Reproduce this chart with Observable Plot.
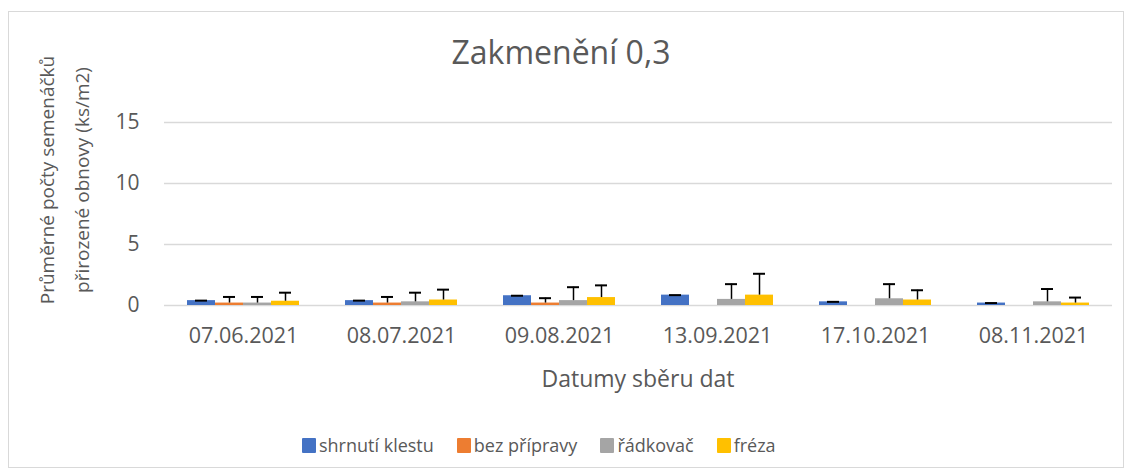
<!DOCTYPE html>
<html>
<head>
<meta charset="utf-8">
<script src="https://cdn.jsdelivr.net/npm/d3@7"></script>
<script src="https://cdn.jsdelivr.net/npm/@observablehq/plot@0.6"></script>
<style>
  body { margin: 0; background: #fff; font-family: "Open Sans", sans-serif; }
  #wrap { position: relative; width: 1132px; height: 476px; overflow: hidden; }
  #frame { position: absolute; left: 8px; top: 11px; width: 1114px; height: 455px; border: 1px solid #d9d9d9; }
  #title { position: absolute; left: 0; top: 28px; width: 1122px; text-align: center; font-size: 32px; color: #595959; line-height: 48px; }
  #chart { position: absolute; left: 0; top: 80px; }
  #ytitle { position: absolute; left: -85.5px; top: 145px; width: 300px; height: 70px; line-height: 35px;
            font-size: 19px; color: #595959; text-align: center; transform: rotate(-90deg); transform-origin: 50% 50%; white-space: nowrap; }
  #xtitle { position: absolute; left: 438px; width: 400px; top: 363px; text-align: center; font-size: 23px; color: #595959; line-height: 30px; }
  #legend { position: absolute; left: 302px; top: 432px; display: flex; align-items: center; font-size: 18px; color: #595959; line-height: 26px; }
  #legend .item { display: flex; align-items: center; margin-right: 23px; }
  #legend .sw { width: 14px; height: 15px; margin-right: 3px; border-radius: 1px; }
</style>
</head>
<body>
<div id="wrap">
  <div id="frame"></div>
  <div id="title">Zakmenění 0,3</div>
  <div id="chart"></div>
  <div id="ytitle">Průměrné počty semenáčků<br>přirozené obnovy (ks/m2)</div>
  <div id="xtitle">Datumy sběru dat</div>
  <div id="legend"></div>
</div>
<script>
const dates = ["07.06.2021", "08.07.2021", "09.08.2021", "13.09.2021", "17.10.2021", "08.11.2021"];
const series = ["shrnutí klestu", "bez přípravy", "řádkovač", "fréza"];
const colors = ["#4472C4", "#ED7D31", "#A5A5A5", "#FFC000"];
const yTicks = [0, 5, 10, 15];

// mean values per series (one per date)
const shrnutiKlestu = [0.4, 0.4, 0.8, 0.85, 0.3, 0.2];
const bezPripravy   = [0.2, 0.2, 0.2, 0, 0, 0];
const radkovac      = [0.2, 0.3, 0.4, 0.5, 0.55, 0.3];
const freza         = [0.35, 0.45, 0.65, 0.85, 0.45, 0.2];

// error bar sizes (plus direction)
const errShrnuti = [0, 0, 0, 0, 0, 0];
const errBez     = [0.5, 0.5, 0.4, 0, 0, 0];
const errRadk    = [0.5, 0.75, 1.1, 1.25, 1.2, 1.05];
const errFreza   = [0.7, 0.85, 1.0, 1.75, 0.8, 0.45];

const valueSets = [shrnutiKlestu, bezPripravy, radkovac, freza];
const errSets = [errShrnuti, errBez, errRadk, errFreza];

const rows = [];
dates.forEach((d, i) => {
  series.forEach((s, j) => {
    rows.push({date: d, series: s, value: valueSets[j][i], err: errSets[j][i]});
  });
});
const shown = rows.filter(r => r.value > 0);

const chart = Plot.plot({
  width: 1132,
  height: 330,
  marginLeft: 162,
  marginRight: 18,
  marginTop: 42,
  marginBottom: 105,
  style: {fontFamily: "Open Sans, sans-serif", color: "#595959", background: "transparent"},
  fx: {domain: dates, padding: 0, label: null},
  x: {domain: series, paddingInner: 0, paddingOuter: 0.78, axis: null},
  y: {domain: [0, 15], label: null},
  color: {domain: series, range: colors},
  marks: [
    Plot.gridY(yTicks, {stroke: "#d9d9d9", strokeOpacity: 1, strokeWidth: 1.3}),
    Plot.axisY(yTicks, {tickSize: 0, tickPadding: 3, dx: -22, fontSize: 21, label: null, fill: "#595959"}),
    Plot.axisFx({tickSize: 0, tickPadding: 22, fontSize: 21.5, label: null, fill: "#595959", anchor: "bottom"}),
    Plot.barY(shown, {fx: "date", x: "series", y: "value", fill: "series"}),
    Plot.ruleX(shown.filter(r => r.err > 0), {fx: "date", x: "series", y1: "value", y2: r => r.value + r.err, stroke: "#000", strokeWidth: 1.5}),
    Plot.tickY(shown, {fx: "date", x: "series", y: r => r.value + r.err, stroke: "#000", strokeWidth: 2, insetLeft: 8, insetRight: 8})
  ]
});
document.getElementById("chart").appendChild(chart);

const legend = document.getElementById("legend");
series.forEach((s, j) => {
  const item = document.createElement("div");
  item.className = "item";
  const sw = document.createElement("div");
  sw.className = "sw";
  sw.style.background = colors[j];
  const tx = document.createElement("span");
  tx.textContent = s;
  item.appendChild(sw);
  item.appendChild(tx);
  legend.appendChild(item);
});
</script>
</body>
</html>
